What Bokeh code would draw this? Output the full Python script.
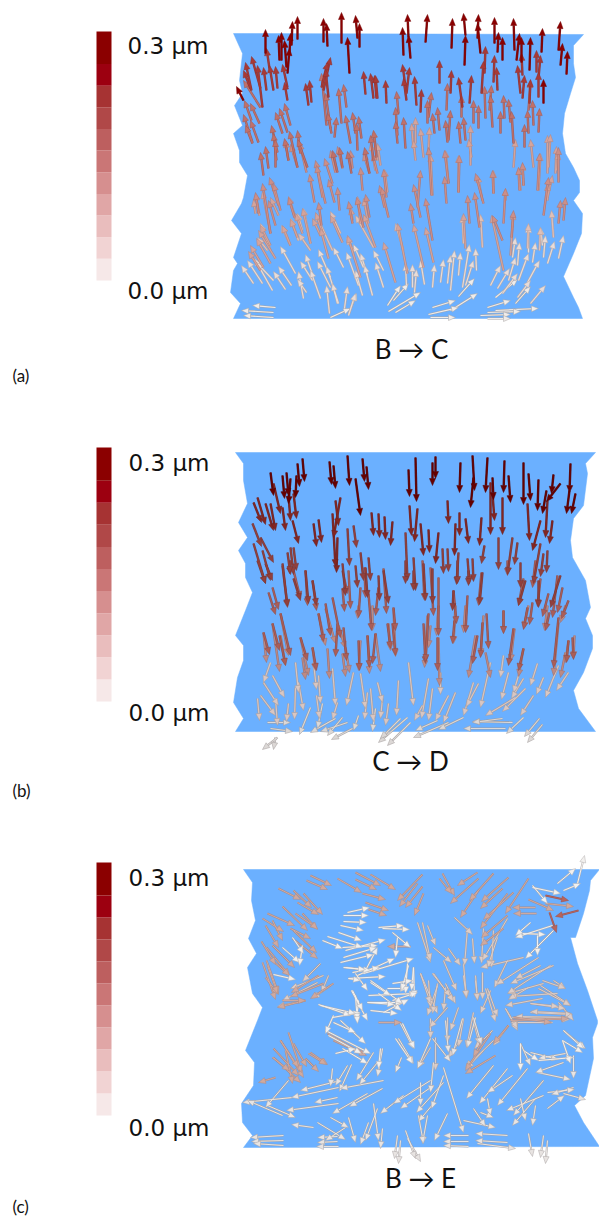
import math
from bokeh.plotting import figure
from bokeh.models import Range1d
from bokeh.core.properties import value
from bokeh.embed import file_html
from bokeh.resources import INLINE

# colour scale, low to high displacement
bar_colors = ["#f6e8e8","#f1d3d3","#e9bdbd","#e0a6a6","#d68f8f","#ca7676","#bd5f5f","#b04848","#a63333","#9c0010","#8b0000"]
bar_steps = [1,1,1,1,1,1,1,1,1,1,1.5]
tick_labels = ["0.0 µm", "0.3 µm"]
panel_labels = ["(a)", "(b)", "(c)"]
transition_labels = ["B → C", "C → D", "B → E"]

# sample outlines
a_outline = [(233,33),(583,34),(573,45),(573,63),(575,77),(570,93),(564,113),(562,133),(565,153),(573,167),(579,180),(579,192),(573,200),(582,213),(581,233),(573,253),(563,276),(573,297),(578,307),(582,318),(233,318),(240,303),(230,292),(233,270),(237,263),(233,257),(241,233),(231,220),(241,203),(243,197),(247,175),(239,162),(239,150),(233,133),(242,125),(234,105),(242,93),(239,80),(242,53)]
b_outline = [(235,452),(243,463),(243,480),(247,503),(238,522),(247,537),(238,550),(245,563),(245,577),(252,592),(245,610),(235,635),(243,645),(243,660),(237,677),(233,702),(243,718),(235,731),(595,731),(578,708),(573,690),(583,672),(592,648),(592,635),(585,618),(590,607),(585,580),(572,557),(570,540),(573,518),(583,505),(587,473),(585,463),(595,452)]
c_outline = [(243,869),(252,882),(251,900),(255,920),(248,938),(256,953),(247,967),(252,993),(262,1007),(257,1020),(255,1025),(245,1050),(254,1062),(253,1085),(241,1103),(242,1122),(252,1135),(243,1147),(599,1146),(583,1122),(574,1105),(585,1095),(593,1058),(592,1037),(597,1023),(597,1020),(587,990),(577,963),(570,937),(575,937),(583,913),(589,890),(590,880),(599,869)]

# arrows: (tail x, tail y, dx, dy), grouped by displacement in µm
a_030 = [(265,53,0,-24),(291,45,1,-24),(297,39,0,-23),(323,42,0,-24),(327,46,-1,-23),(341,43,0,-31),(357,38,-2,-23),(359,47,0,-24),(349,73,-2,-36),(403,55,-1,-28),(408,37,-1,-23),(410,58,-2,-23),(425,42,2,-28),(451,48,1,-30),(465,35,-2,-22),(464,65,1,-30),(477,38,1,-24),(480,53,-3,-30),(494,43,0,-26),(497,52,1,-20),(502,60,0,-23),(514,50,-1,-32),(516,60,3,-27),(529,70,1,-33),(541,52,1,-24),(558,50,2,-29),(560,65,2,-22),(566,74,1,-23),(543,103,0,-24),(521,62,0,-25),(281,60,0,-28),(279,60,-1,-25),(286,67,-2,-27),(287,73,2,-25),(289,53,1,-20),(243,100,-7,-14)]
a_025 = [(251,90,-6,-28),(260,88,-9,-32),(250,88,-7,-18),(266,90,-3,-23),(262,107,-5,-42),(273,90,-4,-25),(277,88,-2,-22),(269,68,-3,-20),(287,87,-5,-23),(287,100,-3,-18),(323,90,7,-33),(321,87,6,-25),(328,97,-3,-28),(308,105,-3,-22),(311,102,-2,-22),(365,94,-2,-23),(373,98,-3,-25),(376,98,-2,-23),(377,98,-2,-23),(386,103,-1,-23),(405,87,-3,-23),(406,100,-3,-22),(406,93,3,-26),(416,105,-2,-29),(420,112,1,-23),(439,83,0,-23),(450,93,1,-23),(462,107,-4,-30),(469,103,2,-28),(481,93,2,-32),(484,73,1,-27),(493,82,1,-27),(497,90,-1,-23),(520,93,-3,-28),(522,98,2,-23),(522,75,-1,-22),(538,78,2,-23),(536,72,0,-22),(529,103,1,-24),(538,97,0,-25)]
a_020 = [(260,107,-17,-27),(251,120,-7,-20),(259,123,-9,-20),(252,142,-9,-28),(252,143,-7,-18),(258,142,-8,-22),(282,133,-7,-21),(287,132,-8,-24),(290,125,-6,-22),(277,152,-6,-27),(276,160,-3,-27),(300,153,-3,-23),(297,167,-8,-36),(288,160,-4,-22),(307,167,-10,-28),(263,175,-3,-23),(268,168,-3,-22),(275,167,0,-28),(326,125,-5,-52),(330,128,-5,-35),(334,137,2,-20),(331,133,-4,-20),(341,123,-3,-35),(346,107,-3,-23),(350,143,-5,-28),(355,133,-3,-21),(361,138,-3,-22),(357,150,-1,-27),(376,157,-3,-27),(373,160,-3,-25),(369,173,-5,-26),(337,172,-5,-22),(342,167,-3,-20),(351,173,-4,-22),(398,113,-2,-22),(397,135,-2,-28),(397,143,-2,-22),(405,148,-2,-31),(427,123,0,-23),(428,117,3,-25),(439,130,-2,-23),(434,133,-2,-20),(446,110,1,-27),(448,140,2,-30),(447,142,-2,-22),(461,117,0,-22),(460,143,-2,-22),(465,140,-2,-23),(473,123,0,-23),(478,128,0,-23),(485,118,-1,-32),(489,110,2,-25),(492,127,-2,-32),(500,133,0,-22),(504,118,-1,-23),(510,122,-2,-23),(513,143,-2,-32),(528,110,2,-30),(533,125,-1,-25),(528,133,-1,-23),(538,132,1,-24),(524,147,0,-23)]
a_016 = [(288,160,-3,-20),(297,167,-7,-23),(306,172,-7,-30),(325,203,-10,-43),(332,183,-8,-25),(314,202,-5,-28),(322,197,-6,-32),(334,202,-6,-23),(339,210,-2,-23),(321,225,-3,-23),(278,205,-9,-28),(270,233,-8,-50),(258,213,-3,-21),(280,210,-7,-27),(294,217,-6,-20),(275,225,-7,-25),(335,172,-5,-22),(342,168,-5,-22),(352,168,-2,-18),(369,173,-6,-20),(377,173,-5,-20),(362,190,-2,-23),(386,197,-3,-28),(384,207,-5,-22),(388,217,-7,-30),(363,227,-7,-30),(352,223,-4,-22),(369,217,-4,-23),(417,207,3,-37),(420,217,-7,-33),(446,203,-2,-27),(448,183,-4,-33),(458,192,1,-37),(431,195,-3,-48),(483,203,-8,-30),(479,227,-5,-35),(493,193,-1,-23),(503,223,2,-35),(502,240,-10,-25),(519,190,-1,-23),(523,185,-1,-23),(537,190,2,-37),(543,215,5,-38),(558,182,0,-35),(563,220,2,-23),(558,223,2,-23),(511,237,2,-27),(469,223,-2,-28),(413,223,-3,-20),(432,240,-7,-42)]
a_013 = [(470,165,0,-40),(471,157,-3,-18),(428,150,1,-23),(413,148,-2,-25),(415,143,0,-26),(423,157,-3,-29),(415,160,-2,-20),(377,160,-4,-30),(380,165,-3,-22),(375,170,-5,-27),(387,192,-3,-23),(432,195,-2,-41),(448,183,-3,-33),(458,192,0,-37),(493,193,0,-23),(513,167,2,-28),(520,190,-2,-23),(523,185,-1,-22),(533,167,-3,-28),(538,190,2,-37),(547,173,0,-38),(548,167,2,-33),(555,173,1,-27),(556,170,2,-18),(547,200,0,-17),(547,197,5,-22),(482,200,-5,-25),(505,200,0,-12),(259,215,-4,-22),(255,213,-2,-14),(270,233,-8,-42),(278,215,-8,-18),(295,218,-7,-22),(310,243,-8,-35),(302,233,-7,-20),(290,245,-8,-20),(297,237,-7,-18),(322,232,-7,-20),(320,235,-8,-17),(328,258,-8,-30),(342,242,-12,-27),(352,220,-2,-13),(360,223,-3,-27),(368,223,-5,-25),(375,247,-12,-33),(275,258,-17,-28),(270,245,-10,-20),(270,263,-14,-25),(263,267,-13,-22),(260,270,-12,-19),(407,273,-10,-50),(423,267,-10,-43),(433,262,-8,-35),(465,248,-2,-35),(503,270,-12,-55),(510,255,3,-43),(395,282,-12,-40),(360,277,-13,-42)]
a_008 = [(527,248,1,-25),(539,250,1,-23),(553,237,-2,-27),(463,243,-1,-28),(482,247,-2,-33),(403,250,-8,-27),(270,250,-10,-27),(302,230,-5,-17),(310,243,-7,-35),(332,250,-17,-37),(340,233,-10,-22),(289,243,-8,-18),(298,240,-8,-22),(310,250,-12,-17),(267,250,-10,-13),(373,247,-18,-32),(353,250,-7,-13)]
a_004 = [(253,283,-12,-18),(262,283,-15,-23),(272,290,-18,-32),(273,280,-17,-18),(291,285,-13,-19),(285,289,-12,-18),(295,273,-15,-27),(312,280,-12,-19),(303,298,-5,-27),(306,292,-9,-13),(313,277,-8,-23),(330,287,-13,-26),(330,277,-12,-28),(320,298,-10,-28),(343,267,-10,-20),(338,303,-12,-37),(329,313,-3,-28),(337,303,-5,-20),(344,308,3,-22),(348,315,7,-22),(363,267,-10,-23),(358,285,-12,-33),(362,295,-7,-25),(372,295,-8,-30),(367,275,-7,-22),(383,270,-10,-20),(383,287,-8,-25),(406,285,-1,-22),(412,287,0,-23),(414,292,2,-23),(424,284,-4,-24),(432,287,2,-23),(440,282,3,-23),(447,283,3,-28),(450,290,4,-40),(458,275,2,-23),(462,287,7,-43),(465,285,8,-25),(476,270,-1,-22),(490,285,10,-20),(497,288,12,-20),(508,280,7,-23),(502,293,15,-20),(518,280,10,-27),(527,282,12,-22),(517,297,13,-17),(530,303,15,-18),(558,258,5,-23),(547,263,7,-22),(543,257,2,-22),(532,262,3,-20),(528,252,0,-27),(542,245,-2,-18),(512,257,3,-20),(517,265,2,-23)]
a_001 = [(275,307,-23,-2),(273,312,-32,-2),(273,317,-30,-2),(330,317,20,-9),(348,314,8,-21),(387,305,13,-20),(393,300,15,-17),(388,311,32,-19),(395,312,20,-12),(432,307,23,-7),(428,314,30,-7),(430,317,25,0),(450,310,27,-17),(458,296,16,-18),(487,307,23,-7),(495,310,43,-2),(480,315,30,-1),(487,312,33,-1),(487,318,23,0),(495,297,22,-18),(515,303,15,-17)]

b_030 = [(270,472,3,23),(282,475,2,23),(286,472,2,23),(290,478,-2,25),(297,463,2,23),(302,458,2,23),(296,475,-1,22),(329,461,2,23),(333,465,2,23),(347,455,2,30),(362,458,2,23),(366,466,2,23),(355,478,5,37),(408,469,1,27),(415,457,1,44),(435,456,0,22),(432,462,0,23),(460,462,-1,30),(472,455,2,35),(473,477,-3,30),(487,457,-2,35),(492,477,1,22),(504,460,-1,32),(508,475,2,27),(523,462,0,42),(528,473,2,27),(538,479,-1,31),(546,490,-4,23),(560,483,-14,18),(553,474,-2,19),(570,463,-1,29),(569,490,-3,23),(575,493,-4,20)]
b_025 = [(253,502,8,20),(257,497,8,27),(265,503,8,27),(270,503,5,27),(273,483,7,30),(282,507,3,23),(288,495,2,25),(292,520,6,23),(293,493,3,25),(313,523,3,23),(318,519,3,23),(340,497,-7,40),(335,500,3,25),(332,513,3,53),(337,537,-1,35),(371,512,2,23),(378,513,1,24),(384,516,1,23),(392,521,-2,24),(409,505,2,30),(417,508,-3,33),(420,523,3,32),(428,529,1,23),(447,500,1,23),(459,512,0,23),(465,518,3,25),(455,523,-1,32),(481,517,-2,28),(490,482,0,52),(492,493,2,27),(502,497,0,37),(527,503,2,37),(540,520,-8,30),(547,500,-2,37),(552,520,-3,23),(438,532,-3,31)]
b_020 = [(253,543,12,40),(252,523,9,23),(260,537,13,25),(262,550,8,30),(287,552,3,22),(293,547,3,23),(290,547,3,27),(282,563,5,43),(305,570,3,33),(293,578,7,22),(312,580,4,25),(342,563,3,32),(347,528,2,37),(353,525,3,22),(360,552,3,28),(368,557,2,23),(355,565,2,22),(405,532,2,48),(413,557,2,33),(423,563,2,37),(447,548,1,23),(442,548,1,25),(458,552,-2,32),(472,558,1,23),(467,558,2,25),(484,545,-3,18),(482,572,-3,32),(498,537,0,32),(512,537,-5,37),(517,542,-3,22),(520,562,0,25),(525,580,-7,25),(540,543,-7,40),(547,550,-1,22),(543,553,-3,23),(538,580,0,27),(560,575,-10,32),(383,570,5,33),(378,575,1,25),(365,567,2,30),(432,568,0,35),(453,590,-1,20),(257,560,8,23),(265,563,7,17),(290,560,-1,13),(405,560,0,23),(413,570,0,20),(457,560,0,23),(468,570,0,15)]
b_017 = [(282,565,5,42),(268,592,7,22),(272,587,6,22),(293,570,7,28),(305,570,2,35),(312,580,4,30),(342,570,5,23),(342,588,2,23),(348,570,2,38),(360,587,-2,30),(364,567,1,30),(368,593,3,37),(383,568,3,45),(378,587,-3,28),(393,607,2,23),(387,623,3,25),(392,623,3,32),(422,560,2,40),(430,567,3,48),(438,577,0,58),(453,590,3,33),(467,595,-2,37),(481,572,-3,33),(486,613,2,35),(482,622,-2,35),(503,610,0,23),(477,635,-5,28),(527,607,-4,22),(532,602,-3,22),(548,593,-6,23),(557,575,-5,42),(562,587,-5,25),(568,600,-7,18),(558,617,-5,50),(549,612,-4,18),(318,613,5,28),(325,603,5,32),(332,597,8,40),(337,623,-2,33),(343,627,3,33),(280,613,10,42),(272,623,7,27),(263,632,6,22),(279,635,6,30),(300,637,7,23),(312,647,4,23),(358,640,1,30),(367,635,2,32),(375,633,-3,30),(423,623,2,40),(428,613,-3,48),(437,637,0,33),(454,620,-2,23),(513,628,-5,37),(523,648,-5,22),(572,637,1,22),(568,640,-2,22),(535,560,-3,27),(523,578,-5,27),(540,578,-3,28),(507,560,0,15)]
b_013 = [(263,632,3,30),(272,623,7,48),(280,613,8,42),(280,635,5,30),(300,637,8,38),(312,647,3,23),(302,657,3,22),(318,613,7,32),(325,608,10,35),(338,625,7,23),(327,648,2,30),(342,653,3,23),(345,647,4,25),(360,640,-2,30),(367,635,2,38),(375,633,5,38),(388,623,2,27),(393,608,2,48),(427,615,-3,52),(430,625,-2,22),(438,637,1,48),(475,635,-7,42),(483,615,-3,40),(485,652,5,25),(503,610,0,23),(514,628,-4,33),(523,648,-5,28),(558,622,-5,53),(565,652,-5,25),(574,635,-1,23),(568,640,-3,22),(528,605,-5,23),(547,605,-3,25),(565,605,-5,17),(455,605,-2,38),(465,605,-2,27),(438,605,-2,30),(372,605,0,25),(358,605,-1,13)]
b_005 = [(270,662,-7,20),(272,675,12,22),(263,682,15,23),(295,662,3,30),(298,682,5,28),(257,698,2,22),(260,695,15,20),(275,698,2,27),(288,703,-2,18),(295,687,-1,32),(313,662,3,27),(318,675,2,28),(316,695,3,23),(332,668,3,37),(337,702,-5,17),(353,672,-7,33),(360,673,5,35),(367,692,-3,27),(370,688,3,33),(382,698,-2,20),(388,703,-3,22),(377,682,5,20),(398,680,-2,35),(408,662,5,43),(422,705,-8,15),(428,678,-7,40),(432,688,-4,32),(440,672,0,22),(448,695,-13,25),(455,692,-12,30),(473,682,-10,33),(478,683,-12,23),(490,662,-10,45),(503,655,-3,22),(508,672,-7,27),(518,675,-5,17),(537,663,-7,22),(543,677,-7,17),(558,665,-13,32),(568,672,-12,18),(523,678,-12,20),(525,688,-23,23),(533,695,-13,20),(515,697,-30,18)]
b_001 = [(267,722,23,0),(270,728,22,3),(277,737,-15,12),(275,737,-2,12),(310,707,-11,27),(322,703,-5,25),(335,718,-25,14),(347,722,-27,9),(342,717,-15,18),(352,728,-21,11),(358,715,-5,15),(375,708,-3,23),(407,717,-29,25),(400,718,-20,20),(410,722,-23,23),(437,720,-22,10),(448,722,-35,15),(463,717,-25,12),(512,722,-40,-1),(505,728,-42,0),(502,718,-30,4),(523,717,-17,16),(539,718,-15,18),(542,724,-15,18)]

c_012 = [(310,875,21,10),(306,880,21,9),(337,878,24,14),(355,879,21,10),(355,872,25,13),(370,874,25,15),(362,893,23,6),(365,902,23,8),(368,909,18,6),(278,888,22,11),(293,890,18,17),(303,893,19,21),(297,902,21,12),(282,906,25,24),(267,913,27,12),(262,918,21,13),(295,913,22,15),(302,913,15,16),(272,920,10,20),(290,928,20,10),(265,925,13,22),(293,930,23,22),(292,938,25,20),(261,941,14,23),(266,947,23,28),(272,945,22,22),(262,962,13,37),(266,960,12,33),(422,874,-25,26),(417,883,-18,23),(422,886,-17,21),(423,893,-9,22),(442,873,12,22),(439,878,12,15),(477,872,-20,13),(478,878,-28,25),(493,873,-24,27),(508,877,-27,24),(502,888,-22,20),(513,892,-30,27),(528,878,-23,35),(507,893,-27,35),(478,890,-18,27),(507,915,-26,22),(503,928,-23,17),(545,903,28,3),(528,899,25,11),(535,907,-23,0),(536,913,-23,0),(410,946,-23,0),(280,1040,23,37),(288,1032,13,40),(273,1048,25,27),(273,1057,27,25),(285,1050,7,33),(310,1052,17,12),(305,1058,13,13),(333,1040,33,15),(327,1033,35,20),(378,1022,23,0),(510,1020,58,-2),(513,1017,38,5),(275,1077,-17,5),(490,1033,-25,37),(495,1055,-30,18),(508,1025,-15,18),(483,1038,-10,18),(272,960,17,15),(265,977,13,17),(267,965,10,28),(272,1057,17,13),(280,1040,18,27),(308,1053,18,11),(293,1043,13,23),(333,983,-23,15),(323,983,-33,13),(318,975,-27,17),(305,1000,-28,7),(282,1000,23,0)]
c_018 = [(545,895,23,5),(578,910,-23,6),(549,912,7,20)]
c_001 = [(378,927,25,-2),(382,928,27,1),(392,932,18,15),(397,937,-2,20),(532,887,28,6),(532,885,15,18),(557,883,18,-15),(563,890,17,-7),(577,883,7,-28),(552,925,-37,12),(522,933,23,1),(530,922,-15,13),(553,930,-28,28),(537,935,0,20),(347,912,22,-5),(343,915,25,0),(343,921,23,1),(340,925,23,5),(338,932,23,8),(327,936,35,11),(322,940,20,8),(342,947,35,-2),(343,957,33,-10),(340,962,33,-8),(345,950,40,-11),(345,967,25,3),(348,978,37,-2),(357,975,37,-17),(363,973,50,-15),(355,973,12,17),(365,970,12,-23),(370,982,20,13),(387,988,20,0),(351,990,16,30),(367,1002,27,2),(370,1010,27,3),(368,995,48,-2),(318,1004,32,11),(332,1017,28,-5),(358,1000,-2,20),(413,967,1,30),(407,963,-2,30),(273,974,22,5),(292,937,11,16),(282,947,17,15),(302,945,-3,20),(352,990,10,20),(367,1002,35,0),(320,1005,35,8),(355,995,2,28),(333,1015,-8,18),(402,1023,12,25),(325,1030,45,23),(328,1035,33,18),(340,1020,25,23),(333,1022,22,10),(335,1053,20,-5),(342,1048,25,15),(395,1038,17,25),(380,1048,-2,20),(413,967,-2,23),(408,965,-7,25),(392,983,20,-3),(370,980,32,23),(378,993,23,17),(348,978,12,2),(352,972,27,-5),(343,967,22,2),(392,1000,25,-8),(383,1012,25,-13),(523,1050,15,10),(520,1043,0,27),(538,1060,35,-3),(563,1030,20,18),(562,1040,20,12),(562,1040,8,23)]
c_005 = [(320,963,-18,18),(323,975,-33,13),(330,985,-18,13),(317,982,-35,18),(328,975,-7,17),(305,1000,-28,6),(417,922,13,40),(422,922,8,38),(427,925,8,20),(433,947,18,15),(448,948,12,17),(443,960,13,30),(420,973,17,40),(432,973,18,23),(445,983,10,20),(428,980,2,27),(437,983,-5,30),(463,963,3,35),(454,917,18,17),(467,928,-3,37),(472,938,2,25),(475,975,2,25),(482,972,0,27),(487,988,10,28),(490,990,-10,23),(483,928,-2,35),(493,930,-2,37),(497,937,-10,30),(507,918,-25,42),(523,957,-43,10),(507,960,-13,27),(538,957,-42,27),(553,965,-43,18),(553,980,12,8),(543,983,-35,10),(557,993,-48,3),(540,985,30,20),(530,1003,35,5),(542,998,-37,7),(505,1008,12,22),(570,1013,-40,-2),(567,1017,-52,-1),(420,973,10,30),(437,985,-10,30),(445,987,-2,23),(433,973,20,28),(458,1007,-8,23),(463,975,3,22),(475,980,2,20),(485,988,10,33),(473,1012,-7,35),(472,1017,7,27),(447,1017,0,25),(463,1018,-5,28),(492,1030,-18,18),(508,1025,-15,20),(493,1040,-28,27),(483,1050,-17,18),(430,1018,0,20),(447,1007,-18,20),(430,1047,-12,20),(435,1037,0,33),(458,1042,-10,15),(540,965,-25,13),(550,965,-43,28),(542,980,23,8),(528,987,-20,12),(538,988,32,17),(530,1003,28,3),(530,1012,42,2),(512,1017,57,2),(552,1022,-42,0),(505,1008,12,20),(558,1002,15,18)]
c_002 = [(347,1065,-12,20),(351,1064,-12,27),(332,1068,-2,18),(373,1052,-17,28),(382,1048,-5,28),(377,1062,-18,22),(398,1038,15,25),(401,1057,-6,15),(400,1023,13,25),(430,1038,-13,30),(443,1075,-12,33),(432,1038,18,23),(433,1062,-3,30),(445,1020,3,32),(462,1018,-10,37),(443,1067,20,65),(475,1017,-8,30),(473,1017,8,27),(383,1080,-43,8),(340,1080,-40,10),(338,1087,-47,10),(367,1093,-35,20),(382,1088,-33,18),(338,1103,-52,7),(337,1097,-23,5),(292,1097,-50,5),(288,1080,-23,27),(282,1115,-35,-15),(267,1105,28,12),(313,1127,-22,-3),(317,1122,28,17),(348,1117,7,25),(345,1127,-20,13),(330,1117,18,10),(403,1095,-23,18),(430,1080,-37,23),(433,1085,-33,23),(443,1082,-27,30),(420,1082,0,23),(433,1103,-15,18),(447,1113,-13,27),(427,1115,-5,28),(418,1115,5,28),(373,1103,5,37),(377,1108,-12,32),(368,1122,-8,22),(382,1128,-2,20),(493,1065,-27,33),(507,1068,-28,35),(512,1075,-25,17),(527,1068,-30,37),(543,1080,-30,35),(535,1098,-23,27),(543,1095,-37,15),(565,1053,-27,5),(563,1062,-28,10),(573,1055,0,23),(563,1030,22,18),(520,1043,10,22),(530,1052,28,7),(537,1072,33,7),(547,1092,27,-3),(563,1093,22,6),(547,1108,17,-13),(573,1087,-22,7),(535,1105,-3,20),(520,1098,5,22),(487,1098,3,17),(473,1108,12,18),(463,1120,32,7),(480,1112,13,5),(283,1135,-33,2),(283,1140,-32,1),(283,1145,-30,-2),(337,1136,-20,1),(337,1141,-20,1),(338,1146,-22,0),(468,1135,-25,0),(468,1141,-25,0),(468,1146,-25,-1),(507,1135,-32,-2),(507,1142,-32,-2),(477,1143,38,5),(397,1135,-3,23),(400,1140,-2,23),(405,1130,10,28),(407,1138,13,23),(528,1133,4,23),(543,1135,-3,22),(547,1140,-2,23)]

# (arrows, core colour, edge colour, shaft outer width)
groups = [
    (a_001,"#efecea","#a9a4a4",2.2),(a_004,"#e8dcd8","#b8a8a4",2.3),(a_008,"#dfc0b8","#bd9c94",2.4),(a_013,"#d4a49c","#b5847c",2.4),(a_016,"#cc8f88","#ad706a",2.4),(a_020,"#c0716a","#a2574f",2.4),(a_025,"#a93a36","#8e2e2a",2.4),(a_030,"#8b0000","#720000",2.4),
    (b_001,"#dcd8d6","#a09a9a",2.2),(b_005,"#d9c6c2","#a89a96",2.3),(b_013,"#bd8a84","#a06c66",2.4),(b_017,"#aa5e58","#8c4944",2.4),(b_020,"#92403c","#783230",2.4),(b_025,"#822622","#6c1c1a",2.4),(b_030,"#660000","#520000",2.4),
    (c_005,"#dccdc8","#ad9c98",2.0),(c_012,"#cfa99f","#b08a80",2.0),(c_002,"#e8e4e2","#a9a3a3",2.0),(c_001,"#f2f0ee","#b5b0b0",2.0),(c_018,"#b8645c","#9c504a",2.0),
]

BLUE = "#6BB0FF"
p = figure(width=599, height=1216, x_range=Range1d(0, 599), y_range=Range1d(1216, 0),
           output_backend="svg", toolbar_location=None, x_axis_location=None, y_axis_location=None,
           min_border=0, outline_line_color=None, background_fill_color="white", border_fill_color="white")
p.grid.visible = False

for outline in (a_outline, b_outline, c_outline):
    p.patch([q[0] for q in outline], [q[1] for q in outline], fill_color=BLUE, line_color=BLUE, line_width=0.5)

for arrows, col, edge, w in groups:
    x0, y0, x1, y1, hx, hy = [], [], [], [], [], []
    for (x, y, dx, dy) in arrows:
        L = math.hypot(dx, dy) or 1.0
        ux, uy = dx / L, dy / L
        tx, ty = x + dx, y + dy
        bx, by = tx - 7 * ux, ty - 7 * uy
        x0.append(x); y0.append(y); x1.append(bx); y1.append(by)
        hx.append([tx, bx - 3.0 * uy, bx + 3.0 * uy])
        hy.append([ty, by + 3.0 * ux, by - 3.0 * ux])
    p.segment(x0, y0, x1, y1, line_color=edge, line_width=w, line_alpha=0.9)
    p.segment(x0, y0, x1, y1, line_color=col, line_width=w / 2)
    p.patches(hx, hy, fill_color=col, line_color=edge, line_width=0.5)

# colour bars
for top, bottom in ((31, 280), (447, 701), (862, 1115)):
    unit = (bottom - top) / sum(bar_steps)
    edges = [bottom]
    for s in bar_steps:
        edges.append(edges[-1] - s * unit)
    p.quad(left=96, right=111, bottom=edges[:-1], top=edges[1:], fill_color=bar_colors, line_color=None)

def label(x, y, s, font, size, align="left"):
    p.text([x], [y], text=[s], text_font=value(font), text_font_size=value(size),
           text_color="#111111", text_align=align, text_baseline="middle")

for x, y0, y1 in ((127, 290, 45), (128, 712, 462), (128, 1127, 877)):
    label(x, y0, tick_labels[0], "DejaVu Sans", "23px")
    label(x, y1, tick_labels[1], "DejaVu Sans", "23px")

for x, y, s in zip((411, 410, 420), (348, 760, 1177), transition_labels):
    label(x, y, s, "Lato", "26px", "center")
for y, s in zip((375, 790, 1206), panel_labels):
    label(12, y, s, "Lato", "17px")

open("out.html", "w").write(file_html(p, INLINE))
